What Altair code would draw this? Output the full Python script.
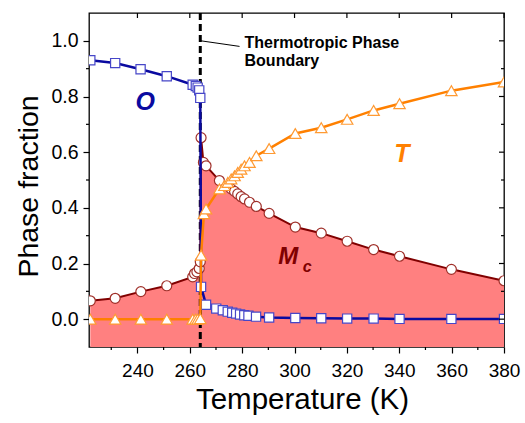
import altair as alt
import pandas as pd

# Orthorhombic (O) phase fraction
temp_o = [222.0, 231.5, 241.2, 251.2, 261.1, 262.3, 263.0, 263.6, 264.0, 264.3, 266.2,
          270.1, 272.6, 274.5, 276.2, 277.7, 279.2, 280.8, 282.4, 285.3, 290.3,
          300.3, 310.2, 320.1, 330.2, 340.1, 359.9, 380.0]
frac_o = [0.930, 0.920, 0.898, 0.873, 0.842, 0.838, 0.832, 0.822, 0.795, 0.116, 0.052,
          0.038, 0.032, 0.027, 0.023, 0.020, 0.017, 0.014, 0.012, 0.009, 0.006,
          0.004, 0.003, 0.002, 0.002, 0.001, 0.001, 0.001]

# Monoclinic (Mc) phase fraction
temp_mc = [222.0, 231.5, 241.3, 251.2, 261.1, 261.8, 262.7, 263.6, 264.0, 264.3, 265.2,
           266.2, 271.3, 275.8, 277.1, 278.3, 279.6, 280.9, 282.8, 285.4, 290.3,
           300.3, 310.2, 320.1, 330.2, 340.1, 359.9, 380.0]
frac_mc = [0.066, 0.075, 0.099, 0.120, 0.152, 0.164, 0.170, 0.182, 0.206, 0.652, 0.563,
           0.551, 0.498, 0.468, 0.459, 0.450, 0.440, 0.432, 0.420, 0.405, 0.380,
           0.331, 0.309, 0.280, 0.250, 0.226, 0.179, 0.138]

# Tetragonal (T) phase fraction
temp_t = [222.0, 231.5, 241.3, 251.2, 261.1, 262.2, 263.0, 264.0, 264.3, 265.4, 266.2,
          271.3, 273.2, 274.5, 275.8, 277.1, 278.3, 279.6, 280.9, 282.8, 285.4, 290.3,
          300.3, 310.2, 320.1, 330.2, 340.1, 359.9, 380.0]
frac_t = [0.0, 0.0, 0.0, 0.0, 0.0, 0.0, 0.0, 0.002, 0.230, 0.379, 0.396,
          0.468, 0.480, 0.491, 0.504, 0.515, 0.527, 0.539, 0.551, 0.563, 0.587, 0.613,
          0.667, 0.688, 0.718, 0.750, 0.774, 0.821, 0.852]

# Axis ticks
x_major = [240, 260, 280, 300, 320, 340, 360, 380]
x_minor = [230, 250, 270, 290, 310, 330, 350, 370]
y_major = [0.0, 0.2, 0.4, 0.6, 0.8, 1.0]
y_minor = [0.1, 0.3, 0.5, 0.7, 0.9]

boundary_temp = 264.0

W, H = 415, 334
FONT = "Liberation Sans"

x_scale = alt.Scale(domain=[221.5, 380], nice=False, zero=False)
y_scale = alt.Scale(domain=[-0.1, 1.1], nice=False, zero=False)

x_axis = alt.Axis(values=x_major, title="Temperature (K)", grid=False,
                  domain=False, tickSize=6, tickWidth=1.2, tickColor="black",
                  labelFontSize=19, labelPadding=8, labelColor="black",
                  labelFont=FONT, titleFont=FONT, titleFontSize=29.5,
                  titleFontWeight="normal", titleColor="black",
                  titlePadding=5, titleX=213, labelFlush=False)
y_axis = alt.Axis(values=y_major, format=".1f", title="Phase fraction",
                  grid=False, domain=False, tickSize=6, tickWidth=1.2,
                  tickColor="black", labelFontSize=19.5, labelPadding=5,
                  labelColor="black", labelFont=FONT, titleFont=FONT,
                  titleFontSize=28.5, titleFontWeight="normal",
                  titleColor="black", titlePadding=7, titleY=173, labelFlush=False)

x_enc = alt.X("temperature:Q", scale=x_scale, axis=x_axis)
y_enc = alt.Y("fraction:Q", scale=y_scale, axis=y_axis)

df_o = pd.DataFrame({"temperature": temp_o, "fraction": frac_o})
df_mc = pd.DataFrame({"temperature": temp_mc, "fraction": frac_mc})
df_t = pd.DataFrame({"temperature": temp_t, "fraction": frac_t})

# Mc region shaded down to the bottom of the plot
area_mc = alt.Chart(df_mc).mark_area(color="#FF8080", opacity=1, clip=True).encode(
    x=x_enc, y=y_enc, y2=alt.datum(-0.1))


def series(df, line_color, shape, stroke, size, width):
    return alt.Chart(df).mark_line(
        color=line_color, strokeWidth=width, clip=True,
        point=alt.OverlayMarkDef(shape=shape, filled=True, fill="white", stroke=stroke,
                                 strokeWidth=1.2, size=size, opacity=1, clip=True),
    ).encode(x=x_enc, y=y_enc)


line_mc = series(df_mc, "#800000", "circle", "#A0302A", 100, 2)
line_o = series(df_o, "#0A0AA0", "square", "#4646C8", 85, 2.5)
line_t = series(df_t, "#FF8000", "triangle-up", "#FF9A33", 130, 2.5)

# Dashed line marking the thermotropic phase boundary
boundary = alt.Chart(pd.DataFrame({"temperature": [boundary_temp]})).mark_rule(
    color="black", strokeWidth=3, strokeDash=[7, 4]).encode(x=x_enc)

# Minor and mirrored ticks
tick_x_minor = alt.Chart(pd.DataFrame({"temperature": x_minor})).mark_rule(
    color="black", strokeWidth=1.2).encode(x=x_enc, y=alt.value(H), y2=alt.value(H + 3))
tick_x_top = alt.Chart(pd.DataFrame({"temperature": x_major})).mark_rule(
    color="black", strokeWidth=1.2).encode(x=x_enc, y=alt.value(0), y2=alt.value(5))
tick_y_minor = alt.Chart(pd.DataFrame({"fraction": y_minor})).mark_rule(
    color="black", strokeWidth=1.2).encode(y=y_enc, x=alt.value(-3), x2=alt.value(0))
tick_y_right = alt.Chart(pd.DataFrame({"fraction": y_major})).mark_rule(
    color="black", strokeWidth=1.2).encode(y=y_enc, x=alt.value(W - 5), x2=alt.value(W))
tick_y_right_minor = alt.Chart(pd.DataFrame({"fraction": y_minor})).mark_rule(
    color="black", strokeWidth=1.2).encode(y=y_enc, x=alt.value(W - 3), x2=alt.value(W))

# Annotations placed in data coordinates
notes = pd.DataFrame({
    "text": ["O", "T", "M", "c", "Thermotropic Phase", "Boundary"],
    "temperature": [243.0, 341.0, 297.6, 304.8, 280.9, 280.9],
    "fraction": [0.753, 0.563, 0.200, 0.170, 0.976, 0.908],
})


def label(i, color, size, style="italic", align="center"):
    row = notes.iloc[[i]]
    return alt.Chart(row).mark_text(
        color=color, fontSize=size, fontStyle=style, fontWeight="bold",
        font=FONT, align=align, baseline="alphabetic",
    ).encode(x=x_enc, y=y_enc, text="text:N")


label_o = label(0, "#0A0AA0", 25)
label_t = label(1, "#FF8000", 25)
label_m = label(2, "#800000", 24)
label_c = label(3, "#800000", 16)
label_b1 = label(4, "black", 16, style="normal", align="left")
label_b2 = label(5, "black", 16, style="normal", align="left")

leader_df = pd.DataFrame({"temperature": [264.3], "fraction": [1.0],
                          "t_end": [279.0], "f_end": [0.98]})
leader = alt.Chart(leader_df).mark_rule(color="black", strokeWidth=1).encode(
    x=x_enc, y=y_enc, x2="t_end:Q", y2="f_end:Q")

chart = alt.layer(
    area_mc, boundary, line_mc, line_o, line_t,
    tick_x_minor, tick_x_top, tick_y_minor, tick_y_right, tick_y_right_minor,
    leader, label_o, label_t, label_m, label_c, label_b1, label_b2,
).properties(
    width=W, height=H, autosize="none",
    padding={"left": 89, "top": 13, "right": 21, "bottom": 76},
    background="white",
).configure_view(stroke="black", strokeWidth=1.3)

chart.save("out.html", embed_options={"renderer": "svg", "actions": False})
